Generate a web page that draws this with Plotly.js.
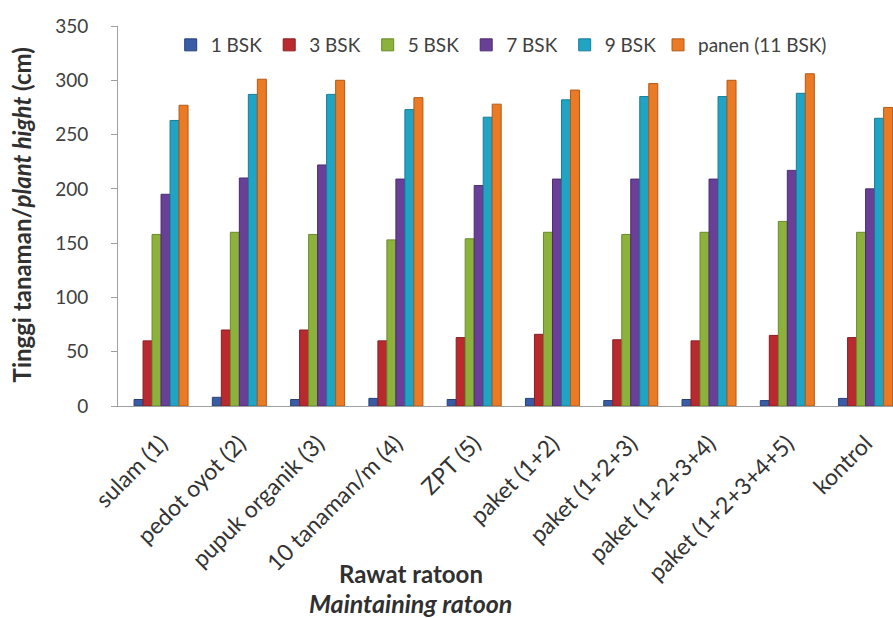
<!DOCTYPE html>
<html>
<head>
<meta charset="utf-8">
<script src="https://cdn.plot.ly/plotly-3.0.1.min.js"></script>
<style>html,body{margin:0;padding:0;background:#fff;}#chart{width:893px;height:618px;}</style>
</head>
<body>
<div id="chart"></div>
<script>
const categories = ["sulam (1)", "pedot oyot (2)", "pupuk organik (3)", "10 tanaman/m (4)", "ZPT (5)",
  "paket (1+2)", "paket (1+2+3)", "paket (1+2+3+4)", "paket (1+2+3+4+5)", "kontrol"];
const seriesNames = ["1 BSK", "3 BSK", "5 BSK", "7 BSK", "9 BSK", "panen (11 BSK)"];
const bsk1  = [6, 8, 6, 7, 6, 7, 5, 6, 5, 7];
const bsk3  = [60, 70, 70, 60, 63, 66, 61, 60, 65, 63];
const bsk5  = [158, 160, 158, 153, 154, 160, 158, 160, 170, 160];
const bsk7  = [195, 210, 222, 209, 203, 209, 209, 209, 217, 200];
const bsk9  = [263, 287, 287, 273, 266, 282, 285, 285, 288, 265];
const panen = [277, 301, 300, 284, 278, 291, 297, 300, 306, 275];
const yTicks = [0, 50, 100, 150, 200, 250, 300, 350];

const values = [bsk1, bsk3, bsk5, bsk7, bsk9, panen];
const colors = ["#3a5ca6", "#b82a2e", "#8cb23c", "#6a3f98", "#21a3c4", "#ea7a24"];
const lines  = ["#26407a", "#8a1d20", "#6a8a2a", "#4c2b70", "#177d96", "#b25a18"];

const traces = values.map((v, i) => ({
  type: "bar",
  name: seriesNames[i],
  x: categories,
  y: v,
  legend: i === values.length - 1 ? "legend2" : "legend",
  marker: {color: colors[i], line: {color: lines[i], width: 1}},
  hoverinfo: "name+y"
}));

const font = "Lato, 'Open Sans', 'DejaVu Sans', sans-serif";
const legendBase = {orientation: "h", xanchor: "left", y: 0.95, yanchor: "middle",
  font: {family: font, size: 19, color: "#404040"}, bgcolor: "rgba(0,0,0,0)",
  itemwidth: 30, traceorder: "normal", itemclick: false};
const layout = {
  width: 893, height: 618,
  margin: {l: 118, r: 0, t: 26, b: 212},
  paper_bgcolor: "#fff", plot_bgcolor: "#fff",
  barmode: "group", bargap: 0.31, bargroupgap: 0,
  showlegend: true,
  legend: Object.assign({}, legendBase, {x: 0.068, entrywidth: 53.5, entrywidthmode: "pixels"}),
  legend2: Object.assign({}, legendBase, {x: 0.6968}),
  xaxis: {type: "category", range: [-0.55, 9.35], tickangle: -45, showline: true, linecolor: "#a0a0a0",
          ticks: "", ticklabelstandoff: 14, tickfont: {family: font, size: 23, color: "#333333"}, fixedrange: true},
  yaxis: {range: [0, 350], tickvals: yTicks, showline: true, linecolor: "#a0a0a0", ticks: "outside",
          ticklen: 6, tickcolor: "#a0a0a0", showgrid: false, zeroline: false, ticklabelstandoff: 19,
          tickfont: {family: font, size: 19, color: "#404040"}, fixedrange: true},
  annotations: [
    {text: "<b>Tinggi tanaman/<i>plant hight</i> (cm)</b>", xref: "paper", yref: "paper",
     x: -0.124, y: 0.504, textangle: -90, showarrow: false, xanchor: "center", yanchor: "middle",
     font: {family: font, size: 24, color: "#303030"}},
    {text: "<b>Rawat ratoon</b>", xref: "paper", yref: "paper", x: 0.378, y: -0.44,
     showarrow: false, xanchor: "center", yanchor: "middle", font: {family: font, size: 24, color: "#303030"}},
    {text: "<b><i>Maintaining ratoon</i></b>", xref: "paper", yref: "paper", x: 0.378, y: -0.518,
     showarrow: false, xanchor: "center", yanchor: "middle", font: {family: font, size: 25, color: "#303030"}}
  ]
};

Plotly.newPlot("chart", traces, layout, {displayModeBar: false, staticPlot: false});
</script>
</body>
</html>
